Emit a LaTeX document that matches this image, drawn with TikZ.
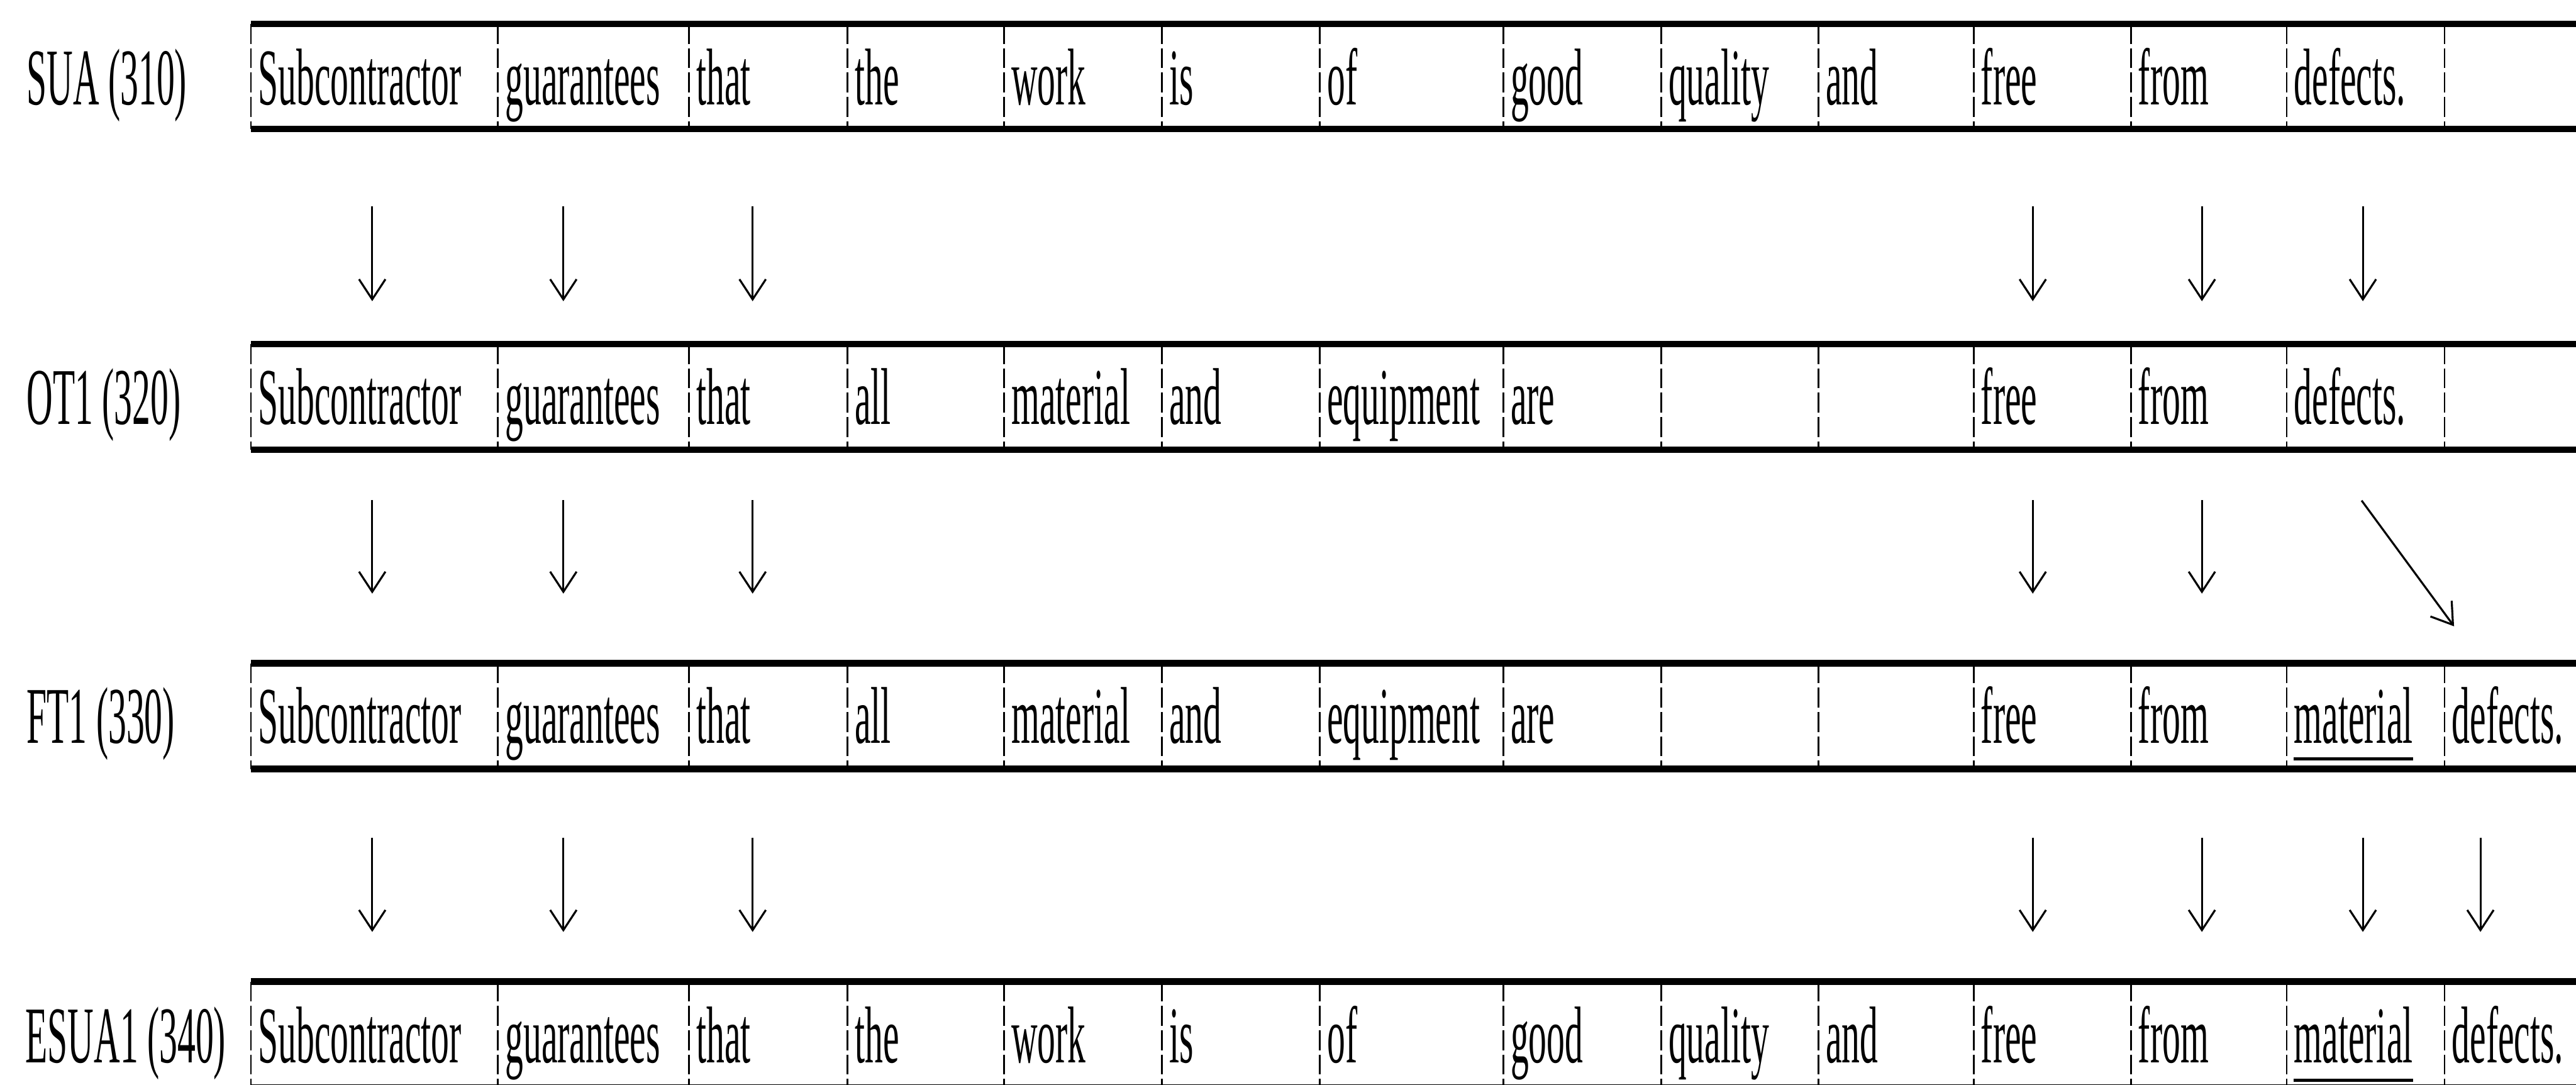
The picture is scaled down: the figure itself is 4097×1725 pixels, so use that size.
\documentclass[tikz,border=0pt]{standalone}
\usepackage{fontspec}
\setmainfont{Liberation Serif}
\newfontfamily\narrowserif[FakeStretch=0.45]{Liberation Serif}
\usetikzlibrary{arrows.meta}
\tikzset{
  word/.style={anchor=base west, inner sep=0pt, font=\narrowserif\fontsize{36.4}{40}\selectfont},
  rowlabel/.style={word},
  border/.style={line width=0.105cm, line cap=butt},
  divider/.style={line width=0.75pt, dash pattern=on 9pt off 2pt},
  conn/.style={line width=0.9pt, -{Straight Barb[length=0.32cm,width=0.42cm]}},
  uline/.style={line width=0.05cm}
}
\newcommand\wordat[4]{\node[word] (#1) at (#2+11,#3) {#4};}
\begin{document}
\begin{tikzpicture}[x=0.01cm,y=-0.01cm]
\useasboundingbox (0,0) rectangle (4097,1725);
% row frames
\foreach \t/\b in {38/205,547/715,1055/1223,1561/1730}{
  \draw[border] (399,\t) -- (4150,\t);
  \draw[border] (399,\b) -- (4150,\b);
  \foreach \x in {399,792,1096,1348,1597,1848,2099,2391,2642,2892,3139,3389,3637,3888}
    \draw[divider] (\x,\t) -- (\x,\b);
}
% labels
\node[rowlabel] (l1) at (42,167) {SUA (310)};
\node[rowlabel] (l2) at (42,675) {OT1 (320)};
\node[rowlabel] (l3) at (42,1182) {FT1 (330)};
\node[rowlabel] (l4) at (40,1690) {ESUA1 (340)};
% row 1
\foreach \x/\w [count=\i] in {399/Subcontractor,792/guarantees,1096/that,1348/the,1597/work,1848/is,2099/of,2391/good,2642/quality,2892/and,3139/free,3389/from,3637/defects.}
  {\wordat{a\i}{\x}{167}{\w}}
% row 2
\foreach \x/\w [count=\i] in {399/Subcontractor,792/guarantees,1096/that,1348/all,1597/material,1848/and,2099/equipment,2391/are,3139/free,3389/from,3637/defects.}
  {\wordat{b\i}{\x}{675}{\w}}
% row 3
\foreach \x/\w [count=\i] in {399/Subcontractor,792/guarantees,1096/that,1348/all,1597/material,1848/and,2099/equipment,2391/are,3139/free,3389/from,3637/material,3888/defects.}
  {\wordat{c\i}{\x}{1182}{\w}}
% row 4
\foreach \x/\w [count=\i] in {399/Subcontractor,792/guarantees,1096/that,1348/the,1597/work,1848/is,2099/of,2391/good,2642/quality,2892/and,3139/free,3389/from,3637/material,3888/defects.}
  {\wordat{d\i}{\x}{1690}{\w}}
% underlines
\draw[uline] ([yshift=-0.25cm]c11.base west) -- ([yshift=-0.25cm]c11.base east);
\draw[uline] ([yshift=-0.28cm]d13.base west) -- ([yshift=-0.28cm]d13.base east);
% arrows SUA -> OT1
\foreach \x [count=\i] in {592,896,1197,3233,3502,3758}{
  \coordinate (p\i s) at (\x,328);
  \coordinate (p\i e) at (\x,479);
  \draw[conn] (p\i s) -- (p\i e);
}
% arrows OT1 -> FT1
\foreach \x [count=\i] in {592,896,1197,3233,3502}{
  \coordinate (q\i s) at (\x,795);
  \coordinate (q\i e) at (\x,944);
  \draw[conn] (q\i s) -- (q\i e);
}
\coordinate (q6s) at (3756,796);
\coordinate (q6e) at (3903,996);
\draw[conn] (q6s) -- (q6e);
% arrows FT1 -> ESUA1
\foreach \x [count=\i] in {592,896,1197,3233,3502,3758,3945}{
  \coordinate (r\i s) at (\x,1332);
  \coordinate (r\i e) at (\x,1482);
  \draw[conn] (r\i s) -- (r\i e);
}
\end{tikzpicture}
\end{document}
